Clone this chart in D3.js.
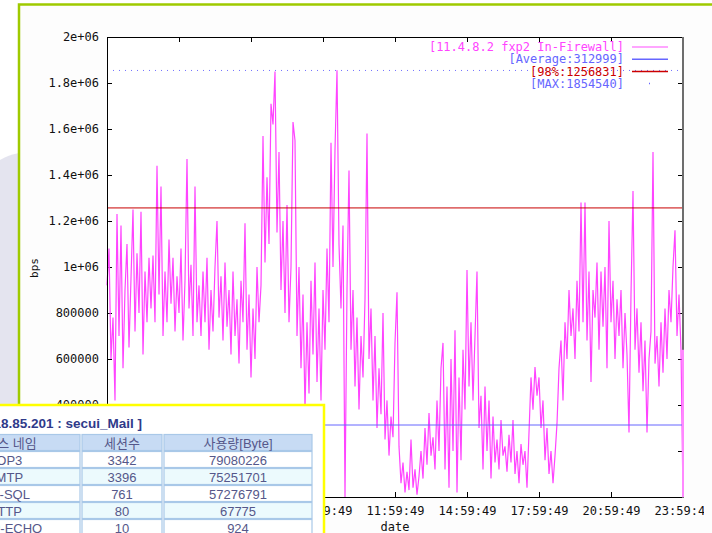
<!DOCTYPE html>
<html>
<head>
<meta charset="utf-8">
<script src="https://cdn.jsdelivr.net/npm/d3@7"></script>
<style>
  body { margin: 0; background: #fff; overflow: hidden; }
  .axis text { font-family: "DejaVu Sans Mono", monospace; font-size: 12px; fill: #111; }
  .axis line { stroke: #000; shape-rendering: crispEdges; }
  .axis path { display: none; }
</style>
</head>
<body>
<div id="chart"></div>
<script>
// bps samples every 5 minutes, in thousands
var traffic = [
  920, 1080, 600, 780, 420, 1230, 700, 1180, 560, 900, 1100, 650, 950, 1250, 720, 1060, 800, 1240, 620, 980, 760, 1040,
  820, 1050, 760, 1440, 880, 1350, 700, 980, 760, 1120, 840, 1040, 720, 960, 800, 1080, 680, 940, 1470, 820, 1010, 700, 1350, 760, 920,
  700, 980, 760, 1040, 640, 900, 720, 1000, 1200, 780, 960, 680, 1020, 740, 900, 620, 980, 700, 860, 580, 940, 760, 1190, 640, 880, 520, 820, 600, 1000, 760,
  920, 1570, 1020, 1390, 1100, 1710, 1620, 1850, 1150, 1500, 900, 1200, 800, 1270, 760, 1000, 1630, 1550, 700, 1000,
  560, 880, 380, 760, 450, 940, 620, 1020, 500, 820, 420, 900, 640, 1080, 760,
  1540, 1000, 1510, 1855, 1100, 820, 1180, 0, 900, 1420,
  640, 900, 480, 780, 380, 700, 520, 860, 1580, 600, 820, 420, 700, 300, 560,
  360, 800, 250, 420, 180, 350, 260, 670, 890, 220, 60, 150, 20, 110, 30, 250, 40, 120, 10, 90,
  200, 80, 300, 140, 365, 180, 260, 120, 420, 200, 560, 670, 120, 480, 40, 600, 200, 725, 20, 520, 160, 640,
  380, 987, 480, 760, 420, 700, 980, 300, 440, 120, 480, 200, 420, 80, 350, 150,
  250, 120, 335, 180, 220, 110, 270, 150, 335, 100, 200, 60, 230, 140, 200, 40,
  280, 520, 380, 565, 440, 520, 300, 420, 160, 300, 100, 200, 60, 180,
  320, 560, 680, 420, 760, 600, 900, 700, 820, 600, 940, 720,
  1280, 760, 1280, 680, 980, 500, 900, 780, 1020, 640, 980, 740, 1000, 560, 1200, 760, 940, 600, 860, 700, 900, 560, 800, 620,
  280, 880, 1330, 640, 820, 540, 760, 460, 680, 280, 600, 720, 1500, 580, 700, 480, 760, 540, 820, 600, 900, 760, 1000, 1160, 700, 880, 640, 0
];
var stepMinutes = 5;

// reference lines
var avgValue = 312999;
var pctValue = 1256831;
var maxValue = 1854540;

// legend texts
var legendNames = ["[11.4.8.2 fxp2 In-Firewall]", "[Average:312999]", "[98%:1256831]", "[MAX:1854540]"];
var legendColors = ["#ff44ff", "#6666ff", "#cc0000", "#6666ff"];

// axis ticks
var yTicks = [0, 200000, 400000, 600000, 800000, 1000000, 1200000, 1400000, 1600000, 1800000, 2000000];
var yTickLabels = ["0", "200000", "400000", "600000", "800000", "1e+06", "1.2e+06", "1.4e+06", "1.6e+06", "1.8e+06", "2e+06"];
var xTickHours = [0, 3, 6, 9, 12, 15, 18, 21, 24];

// table overlay
var tableTitle = "[ 218.85.201 : secui_Mail ]";
var tableHeader = ["서비스 네임", "세션수", "사용량[Byte]"];
var services = ["POP3", "SMTP", "MS-SQL", "HTTP", "ICMP-ECHO"];
var sessions = [3342, 3396, 761, 80, 10];
var bytes = [79080226, 75251701, 57276791, 67775, 924];

// Width and height
var W = 712, H = 533;
var padLeft = 107, padTop = 37, w = 576, h = 460;

var svg = d3.select("#chart").append("svg")
  .attr("width", W)
  .attr("height", H);

// slide background
svg.append("rect").attr("width", W).attr("height", H).attr("fill", "#ffffff");
svg.append("path")
  .attr("d", "M0,160 Q8,155 19,153 L19,410 L0,410 Z")
  .attr("fill", "#e4e4ef");

// green frame
svg.append("rect")
  .attr("x", 19).attr("y", 4.5)
  .attr("width", 720).attr("height", 560)
  .attr("fill", "#fdfdfd")
  .attr("stroke", "#9fca00")
  .attr("stroke-width", 2.5);

// the screenshot cuts the last date label
svg.append("clipPath")
  .attr("id", "cut")
  .append("rect")
  .attr("x", -padLeft).attr("y", -padTop)
  .attr("width", 704).attr("height", H);

var g = svg.append("g")
  .attr("transform", "translate(" + padLeft + "," + padTop + ")");

// Scale functions
var start = new Date(2008, 4, 18, 23, 59, 49);
var end = d3.timeHour.offset(start, 24);

var xScale = d3.scaleTime()
  .domain([start, end])
  .range([0, w]);

var yScale = d3.scaleLinear()
  .domain([0, 2000000])
  .range([h, 0]);

// plot background
g.append("rect").attr("width", w).attr("height", h).attr("fill", "#ffffff");

// Axes (ticks point inward like gnuplot)
var xTicks = xTickHours.map(function(d) { return d3.timeHour.offset(start, d); });

g.append("g")
  .attr("class", "axis")
  .attr("clip-path", "url(#cut)")
  .call(function(sel) {
    sel.append("g")
      .attr("transform", "translate(0," + h + ")")
      .call(d3.axisBottom(xScale).tickValues(xTicks).tickSize(-5).tickPadding(9)
        .tickFormat(d3.timeFormat("%H:%M:%S")));
  });

g.append("g")
  .attr("class", "axis")
  .call(d3.axisTop(xScale).tickValues(xTicks).tickSize(-5).tickFormat(""));

g.append("g")
  .attr("class", "axis")
  .call(d3.axisLeft(yScale).tickValues(yTicks).tickSize(-5).tickPadding(8)
    .tickFormat(function(d, i) { return yTickLabels[i]; }));

g.append("g")
  .attr("class", "axis")
  .attr("transform", "translate(" + w + ",0)")
  .call(d3.axisRight(yScale).tickValues(yTicks).tickSize(-5).tickFormat(""));

// traffic line
var line = d3.line()
  .x(function(d, i) { return xScale(d3.timeMinute.offset(start, i * stepMinutes)); })
  .y(function(d) { return yScale(d * 1000); });

g.append("path")
  .datum(traffic)
  .attr("fill", "none")
  .attr("stroke", "#ff44ff")
  .attr("stroke-width", 1.2)
  .attr("d", line);

// reference lines
g.append("line")
  .attr("x1", 0).attr("x2", w)
  .attr("y1", yScale(avgValue)).attr("y2", yScale(avgValue))
  .attr("stroke", "#6666ff");

g.append("line")
  .attr("x1", 0).attr("x2", w)
  .attr("y1", yScale(pctValue)).attr("y2", yScale(pctValue))
  .attr("stroke", "#c80000");

g.append("line")
  .attr("x1", 0).attr("x2", w)
  .attr("y1", yScale(maxValue)).attr("y2", yScale(maxValue))
  .attr("stroke", "#7070ff")
  .attr("stroke-dasharray", "1,5");

// frame
g.append("path")
  .attr("d", "M" + w + ",0.5 H0.5 V" + (h + 0.5) + " H" + w)
  .attr("fill", "none")
  .attr("stroke", "#000")
  .attr("stroke-width", 1);
g.append("line")
  .attr("x1", w).attr("x2", w)
  .attr("y1", 0).attr("y2", h + 1)
  .attr("stroke", "#6e6e6e")
  .attr("stroke-width", 2);
g.append("line")
  .attr("x1", w).attr("x2", w)
  .attr("y1", yScale(traffic[traffic.length - 2] * 1000)).attr("y2", h)
  .attr("stroke", "#ff88ff")
  .attr("stroke-width", 2);

// legend
var legend = g.selectAll(".legend")
  .data(legendNames)
  .enter().append("g")
  .attr("class", "legend")
  .attr("transform", function(d, i) { return "translate(0," + (10 + i * 12.2) + ")"; });

legend.append("text")
  .attr("x", 517)
  .attr("dy", "0.35em")
  .style("text-anchor", "end")
  .style("font", "12px 'DejaVu Sans Mono', monospace")
  .style("fill", function(d, i) { return legendColors[i]; })
  .text(function(d) { return d; });

legend.append("line")
  .attr("x1", function(d, i) { return i == 3 ? 542 : 525; })
  .attr("x2", function(d, i) { return i == 3 ? 543 : 561; })
  .attr("y1", 0).attr("y2", 0)
  .attr("stroke", function(d, i) { return i == 0 ? "#ff88ff" : legendColors[i]; })
  .attr("stroke-width", 1.5);

// axis titles
svg.append("text")
  .attr("transform", "translate(34,268) rotate(-90)")
  .style("text-anchor", "middle")
  .attr("dy", "0.35em")
  .style("font", "11px 'DejaVu Sans Mono', monospace")
  .style("fill", "#111")
  .text("bps");

svg.append("text")
  .attr("x", 395)
  .attr("y", 531)
  .style("text-anchor", "middle")
  .style("font", "12px 'DejaVu Sans Mono', monospace")
  .style("fill", "#111")
  .text("date");

// table overlay (bottom left)
var tb = svg.append("g");
tb.append("rect")
  .attr("x", -20).attr("y", 405)
  .attr("width", 344).attr("height", 160)
  .attr("fill", "#ffffff")
  .attr("stroke", "#ffff00")
  .attr("stroke-width", 2.5);

tb.append("text")
  .attr("x", 142).attr("y", 428)
  .style("text-anchor", "end")
  .style("font", "bold 13.5px 'Liberation Sans', 'Noto Sans CJK KR', sans-serif")
  .style("fill", "#2f3a8a")
  .text(tableTitle);

var colEdges = [-71, 81, 163, 313];
var rowTop = 434, rowH = 17;
var rows = [tableHeader].concat(services.map(function(s, i) {
  return [s, String(sessions[i]), String(bytes[i])];
}));

rows.forEach(function(r, ri) {
  r.forEach(function(cell, ci) {
    tb.append("rect")
      .attr("x", colEdges[ci] + 1)
      .attr("y", rowTop + ri * rowH + 0.5)
      .attr("width", colEdges[ci + 1] - colEdges[ci] - 2)
      .attr("height", rowH - 1)
      .attr("fill", ri == 0 ? "#c7dbf4" : (ri % 2 == 0 ? "#ecfafd" : "#ffffff"))
      .attr("stroke", "#a9c8e8")
      .attr("stroke-width", 1.2);
    tb.append("text")
      .attr("x", (colEdges[ci] + colEdges[ci + 1]) / 2)
      .attr("y", rowTop + ri * rowH + rowH / 2 + 1)
      .attr("dy", "0.35em")
      .style("text-anchor", "middle")
      .style("font", "13px 'Liberation Sans', 'Noto Sans CJK KR', sans-serif")
      .style("fill", "#55578a")
      .text(cell);
  });
});
</script>
</body>
</html>
